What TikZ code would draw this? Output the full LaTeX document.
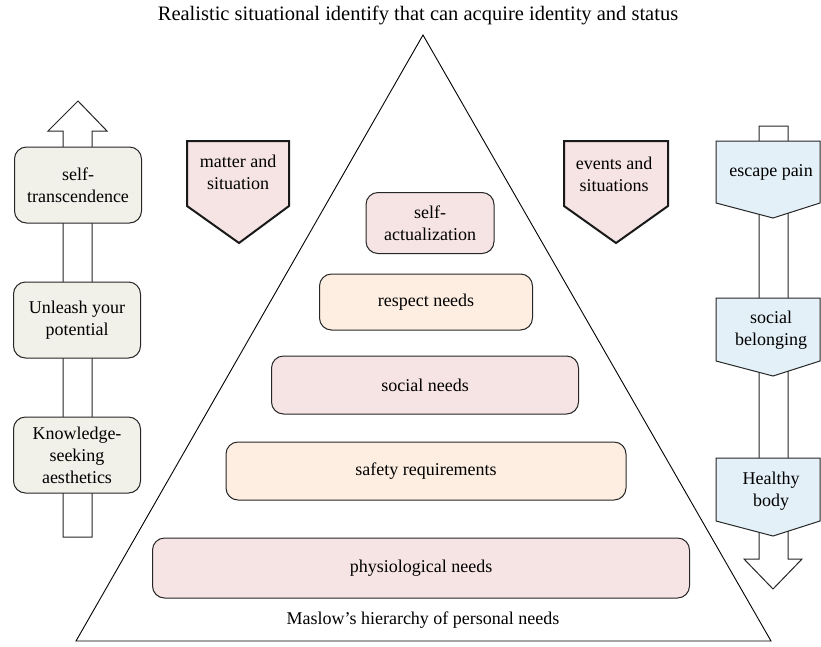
\documentclass[tikz,border=0pt]{standalone}
\usepackage{fontspec}
\setmainfont{Liberation Serif}

\definecolor{pinkfill}{HTML}{F6E4E4}
\definecolor{peachfill}{HTML}{FDEEE1}
\definecolor{greyfill}{HTML}{F1F0E9}
\definecolor{bluefill}{HTML}{E4F0F8}

\tikzset{
  level/.style={draw=black!85, line width=1pt, rounded corners=12pt, align=center, inner sep=0pt},
  sidebox/.style={level, fill=greyfill, minimum width=127, minimum height=76},
  hollow/.style={draw=black!85, line width=1pt, fill=white},
  pent/.style={draw=black!85, line width=1pt, fill=bluefill},
  thickpent/.style={draw=black!90, line width=2pt, fill=pinkfill},
  txt/.style={align=center, inner sep=0pt}
}

\begin{document}
\begin{tikzpicture}[x=1pt,y=-1pt,font=\fontsize{18}{22}\selectfont]
\useasboundingbox (0,0) rectangle (821,646);

\node[txt, font=\fontsize{20.5}{24}\selectfont] (title) at (418,15) {Realistic situational identify that can acquire identity and status};

% pyramid
\coordinate (apex) at (423,35);
\coordinate (baseL) at (76,641);
\coordinate (baseR) at (771,641);
\draw[line width=0.9pt] (apex) -- (baseR) -- (baseL) -- cycle;

\node[level, fill=pinkfill, minimum width=128, minimum height=61] (selfact) at (430,223) {self-\\actualization};
\node[level, fill=peachfill, minimum width=213, minimum height=56] (respect) at (426,302) {respect needs};
\node[level, fill=pinkfill, minimum width=307, minimum height=58] (social) at (425,385) {social needs};
\node[level, fill=peachfill, minimum width=400, minimum height=58] (safety) at (426,471) {safety requirements};
\node[level, fill=pinkfill, minimum width=537, minimum height=60] (physio) at (421,568) {physiological needs};
\node[txt] (maslow) at (423,620) {Maslow's hierarchy of personal needs};

% left column, arrow up
\draw[hollow] (63,537) -- (63,131) -- (48,131) -- (78,101) -- (107,131) -- (92,131) -- (92,537) -- cycle;
\node[sidebox] (transc) at (78,185) {self-\\transcendence};
\node[sidebox] (unleash) at (77,320) {Unleash your\\potential};
\node[sidebox] (knowl) at (77,455) {Knowledge-\\seeking\\aesthetics};

% right column, arrow down
\draw[hollow] (759,126) -- (759,559) -- (744,559) -- (773,589) -- (802,559) -- (788,559) -- (788,126) -- cycle;
\draw[pent] (716,141) -- (820,141) -- (820,203) -- (773,218) -- (716,203) -- cycle;
\node[txt] (escape) at (771,172) {escape pain};
\draw[pent] (716,298) -- (820,298) -- (820,361) -- (773,376) -- (716,361) -- cycle;
\node[txt] (belong) at (771,330) {social\\belonging};
\draw[pent] (716,458) -- (820,458) -- (820,521) -- (773,536) -- (716,521) -- cycle;
\node[txt] (healthy) at (771,491) {Healthy\\body};

% top markers
\draw[thickpent] (187,141) -- (289,141) -- (289,206) -- (239,243) -- (187,206) -- cycle;
\node[txt] (matter) at (238,172) {matter and\\situation};
\draw[thickpent] (564,141) -- (668,141) -- (668,206) -- (616,243) -- (564,206) -- cycle;
\node[txt] (events) at (614,174) {events and\\situations};

\end{tikzpicture}
\end{document}
